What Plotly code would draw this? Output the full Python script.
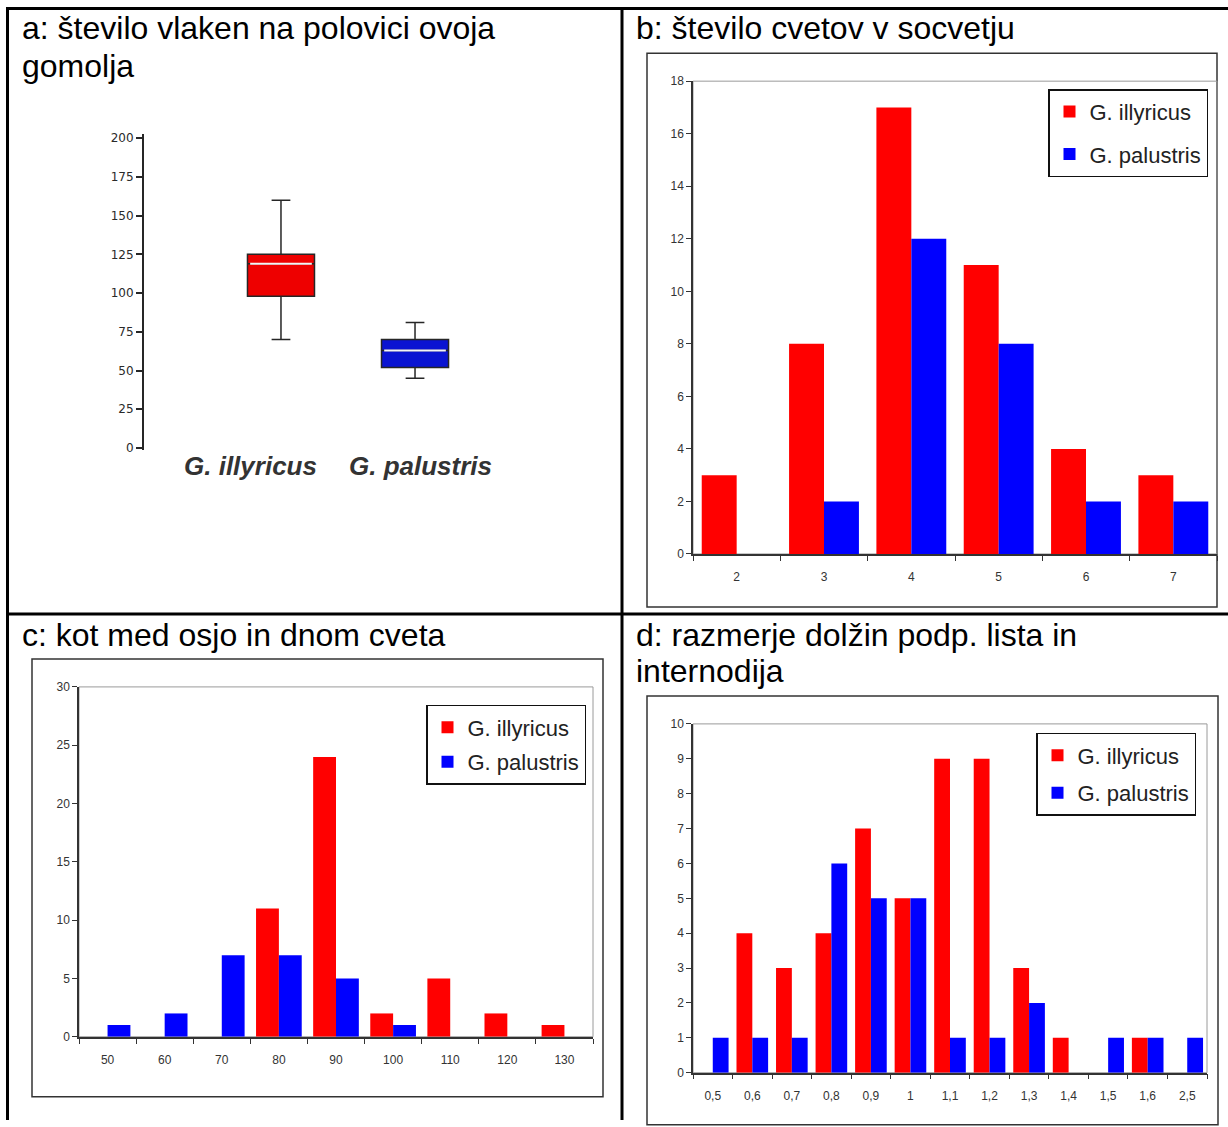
import plotly.graph_objects as go

W, H = 1228, 1127

# ---------------- data ----------------
# panel a: box plot (number of fibres on half of the tuber tunic)
box_groups = ["G. illyricus", "G. palustris"]
box_q1 = [98, 52]
box_median = [119, 63]
box_q3 = [125, 70]
box_lower = [70, 45]
box_upper = [160, 81]
box_ticks = [0, 25, 50, 75, 100, 125, 150, 175, 200]

# panel b: number of flowers in inflorescence
b_categories = ["2", "3", "4", "5", "6", "7"]
b_illyricus = [3, 8, 17, 11, 4, 3]
b_palustris = [0, 2, 12, 8, 2, 2]

# panel c: angle between axis and flower base
c_categories = ["50", "60", "70", "80", "90", "100", "110", "120", "130"]
c_illyricus = [0, 0, 0, 11, 24, 2, 5, 2, 1]
c_palustris = [1, 2, 7, 7, 5, 1, 0, 0, 0]

# panel d: ratio of bract length to internode length
d_categories = ["0,5", "0,6", "0,7", "0,8", "0,9", "1", "1,1", "1,2", "1,3",
                "1,4", "1,5", "1,6", "2,5"]
d_illyricus = [0, 4, 3, 4, 7, 5, 9, 9, 3, 1, 0, 1, 0]
d_palustris = [1, 1, 1, 6, 5, 5, 1, 1, 2, 0, 1, 1, 1]

series_names = ["G. illyricus", "G. palustris"]
title_lines = {
    "a": ["a: število vlaken na polovici ovoja", "gomolja"],
    "b": ["b: število cvetov v socvetju"],
    "c": ["c: kot med osjo in dnom cveta"],
    "d": ["d: razmerje dolžin podp. lista in", "internodija"],
}

# ---------------- styling ----------------
FONT = "Liberation Sans, Arial, Helvetica, sans-serif"
RED = "#ff0000"
BLUE = "#0000ff"
BOX_RED = "#ee0000"
BOX_BLUE = "#0a14d2"
TICK_COL = "#333333"

# vertical calibration of the rendered page (measured offset / scale)
Y_OFF, Y_SCALE = 6.8, 0.988


def px(x):
    return x / W


def py(y):
    yy = (y - Y_OFF) / Y_SCALE
    return 1 - yy / H


fig = go.Figure()

# ---------- panel a ----------
box_fill = [BOX_RED, BOX_BLUE]
box_half = 0.25
for i, g in enumerate(box_groups):
    fig.add_trace(go.Box(
        x=[i], q1=[box_q1[i]], median=[box_median[i]], q3=[box_q3[i]],
        lowerfence=[box_lower[i]], upperfence=[box_upper[i]],
        width=2 * box_half, whiskerwidth=0.28,
        fillcolor=box_fill[i], line=dict(color="#262626", width=1.5),
        name=g, showlegend=False, hoverinfo="skip",
        xaxis="x", yaxis="y"))
    fig.add_trace(go.Scatter(
        x=[i - box_half + 0.02, i + box_half - 0.02],
        y=[box_median[i], box_median[i]],
        mode="lines", line=dict(color="#f4f4f4", width=2),
        showlegend=False, hoverinfo="skip", xaxis="x", yaxis="y"))

# ---------- bar panels ----------
panels = [
    ("2", "legend", b_categories, b_illyricus, b_palustris),
    ("3", "legend2", c_categories, c_illyricus, c_palustris),
    ("4", "legend3", d_categories, d_illyricus, d_palustris),
]
for ax, leg, cats, ill, pal in panels:
    for name, vals, col in ((series_names[0], ill, RED), (series_names[1], pal, BLUE)):
        fig.add_trace(go.Bar(
            x=cats, y=vals, name=name, marker=dict(color=col, line=dict(width=0)),
            xaxis="x" + ax, yaxis="y" + ax, legend=leg,
            legendgroup=leg + name, offsetgroup=name))

# ---------- axes ----------
def cat_xaxis(dom):
    return dict(domain=dom, type="category", ticks="outside", tickson="boundaries",
                ticklen=5, tickcolor=TICK_COL, tickwidth=1,
                showline=True, linecolor=TICK_COL, linewidth=1.5,
                showgrid=False, zeroline=False,
                tickfont=dict(family=FONT, size=12, color=TICK_COL),
                ticklabelstandoff=11, fixedrange=True)


def val_yaxis(dom, top, step, anchor):
    return dict(domain=dom, range=[0, top], dtick=step, tick0=0, ticks="outside",
                ticklen=5, tickcolor=TICK_COL, tickwidth=1,
                showline=True, linecolor=TICK_COL, linewidth=1.5,
                showgrid=False, zeroline=False, anchor=anchor,
                tickfont=dict(family=FONT, size=12, color=TICK_COL), fixedrange=True)


layout = dict(
    width=W, height=H, autosize=False,
    margin=dict(l=0, r=0, t=0, b=0, pad=0),
    paper_bgcolor="white", plot_bgcolor="rgba(0,0,0,0)",
    barmode="group", bargap=0.2, bargroupgap=0,
    font=dict(family=FONT, color="#000"),
    # panel a
    xaxis=dict(domain=[px(144), px(500)], range=[-1.022, 1.634], visible=False,
               fixedrange=True),
    yaxis=dict(domain=[py(450), py(134)], range=[-1.3, 202.6], tickvals=box_ticks,
               ticks="outside", ticklen=6, tickcolor="#262626", tickwidth=1.5,
               showline=True, linecolor="#262626", linewidth=2, showgrid=False,
               zeroline=False,
               tickfont=dict(family="DejaVu Sans, sans-serif", size=12, color="#2a2a2a"),
               fixedrange=True),
    # panel b
    xaxis2=dict(cat_xaxis([px(693), px(1217)]), anchor="y2"),
    yaxis2=val_yaxis([py(554), py(81)], 18, 2, "x2"),
    # panel c
    xaxis3=dict(cat_xaxis([px(79), px(593)]), anchor="y3"),
    yaxis3=val_yaxis([py(1037), py(687)], 30, 5, "x3"),
    # panel d
    xaxis4=dict(cat_xaxis([px(693), px(1207)]), anchor="y4"),
    yaxis4=val_yaxis([py(1073), py(724)], 10, 1, "x4"),
)


def legend_at(x, y, gap, size):
    return dict(x=px(x), y=py(y), xanchor="left", yanchor="top",
                bgcolor="white", bordercolor="#111", borderwidth=1.5,
                font=dict(family=FONT, size=size, color="#222"),
                tracegroupgap=gap, itemwidth=30, orientation="v")


layout["legend"] = legend_at(1048, 89, 11, 22)
layout["legend2"] = legend_at(426, 705, 3, 22)
layout["legend3"] = legend_at(1036, 733, 6, 22)

fig.update_layout(**layout)

# ---------- shapes: table grid, chart frames, plot-area borders ----------
shapes = []
TBL = dict(color="black", width=3)
shapes.append(dict(type="line", xref="paper", yref="paper",
                   x0=px(6), x1=1, y0=1 - 1.5 / H, y1=1 - 1.5 / H, line=TBL))
shapes.append(dict(type="line", xref="paper", yref="paper",
                   x0=px(7.5), x1=px(7.5), y0=0, y1=1, line=TBL))
shapes.append(dict(type="line", xref="paper", yref="paper",
                   x0=px(622), x1=px(622), y0=0, y1=1, line=TBL))
shapes.append(dict(type="line", xref="paper", yref="paper",
                   x0=px(6), x1=1, y0=py(614), y1=py(614), line=TBL))

FRAME = dict(color="#333333", width=1.5)
for x0, y0, x1, y1 in [(647, 53, 1217, 607), (32, 659, 603, 1097), (647, 696, 1218, 1125)]:
    shapes.append(dict(type="rect", xref="paper", yref="paper",
                       x0=px(x0), x1=px(x1), y0=py(y1), y1=py(y0),
                       line=FRAME, fillcolor="rgba(0,0,0,0)", layer="below"))

for ax in ["2", "3", "4"]:
    shapes.append(dict(type="rect", xref="x%s domain" % ax, yref="y%s domain" % ax,
                       x0=0, x1=1, y0=0, y1=1, line=dict(color="#9a9a9a", width=1),
                       fillcolor="rgba(0,0,0,0)", layer="below"))
fig.update_layout(shapes=shapes)

# ---------- annotations: panel titles and box labels ----------
ann = []
TFONT = dict(family=FONT, size=32, color="#000")
title_pos = {"a": (20, [28, 66]), "b": (634, [28]), "c": (20, [635]), "d": (634, [635, 671])}
for key, (x, ys) in title_pos.items():
    for line, y in zip(title_lines[key], ys):
        ann.append(dict(text=line, x=px(x), y=py(y), xref="paper", yref="paper",
                        xanchor="left", yanchor="middle", align="left",
                        showarrow=False, font=TFONT))
for label, cx in zip(box_groups, [250, 420]):
    ann.append(dict(text="<b><i>%s</i></b>" % label, x=px(cx), y=py(466),
                    xref="paper", yref="paper", xanchor="center", yanchor="middle",
                    showarrow=False, font=dict(family=FONT, size=26, color="#333")))
fig.update_layout(annotations=ann)

POST = (
    "document.documentElement.style.margin='0';"
    "document.documentElement.style.padding='0';"
    "document.documentElement.style.overflow='hidden';"
    "document.body.style.margin='0';"
    "document.body.style.padding='0';"
    "document.body.style.overflow='hidden';"
    "var g=document.getElementsByClassName('plotly-graph-div')[0];"
    "if(g){g.style.position='fixed';g.style.left='0px';g.style.top='0px';}"
)

fig.write_html("out.html", config={"displayModeBar": False}, post_script=POST)
